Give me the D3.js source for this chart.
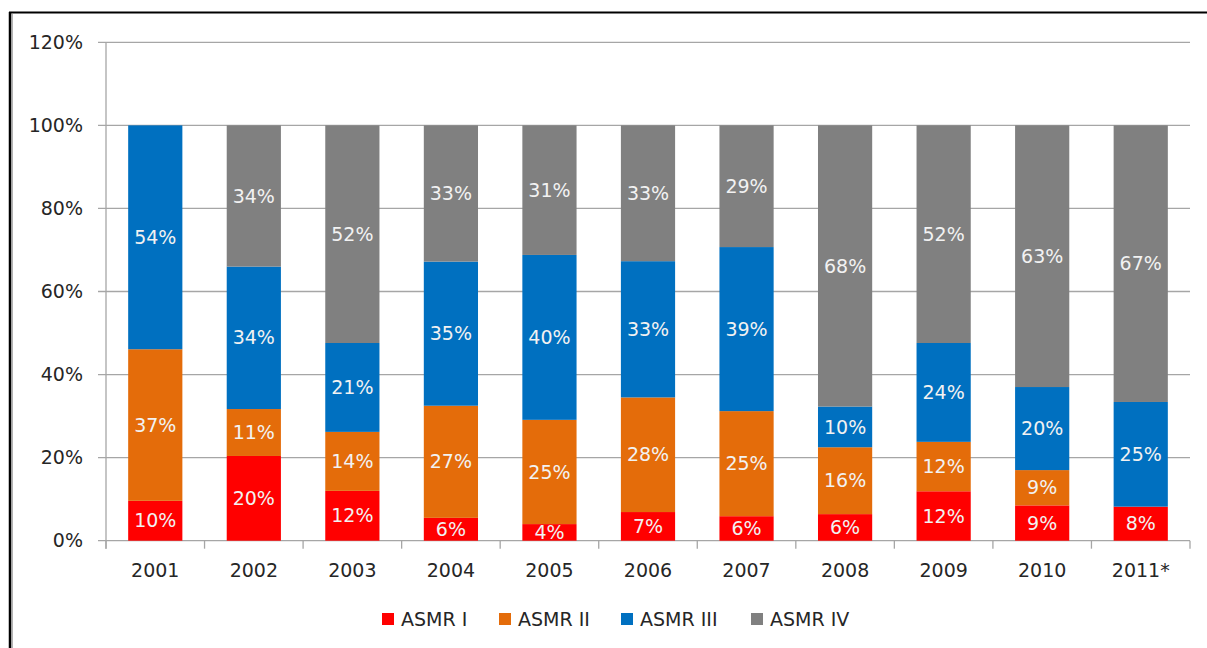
<!DOCTYPE html>
<html>
<head>
<meta charset="utf-8">
<script src="https://cdn.jsdelivr.net/npm/d3@7"></script>
<style>
  body { margin: 0; background: #fff; }
  svg text { font-family: "DejaVu Sans", sans-serif; }
</style>
</head>
<body>
<svg id="chart"></svg>
<script>
const width = 1207, height = 648;
const text_color = "#262626", grid_color = "#a6a6a6", label_color = "#f2f2f2";

// categories and series (share of each ASMR level, %)
const years = ["2001", "2002", "2003", "2004", "2005", "2006", "2007", "2008", "2009", "2010", "2011*"];
const series = ["ASMR I", "ASMR II", "ASMR III", "ASMR IV"];
const colors = ["#ff0000", "#e46c0a", "#0070c0", "#808080"];
const asmr1 = [9.6, 20.4, 12.0, 5.5, 4.0, 6.9, 5.9, 6.4, 11.9, 8.5, 8.2];
const asmr2 = [36.5, 11.3, 14.2, 27.0, 25.1, 27.6, 25.3, 16.1, 11.9, 8.5, 0];
const asmr3 = [53.9, 34.3, 21.4, 34.7, 39.7, 32.8, 39.5, 9.8, 23.8, 20.0, 25.2];
const asmr4 = [0, 34.0, 52.4, 32.8, 31.2, 32.7, 29.3, 67.7, 52.4, 63.0, 66.6];
const labels1 = ["10%", "20%", "12%", "6%", "4%", "7%", "6%", "6%", "12%", "9%", "8%"];
const labels2 = ["37%", "11%", "14%", "27%", "25%", "28%", "25%", "16%", "12%", "9%", ""];
const labels3 = ["54%", "34%", "21%", "35%", "40%", "33%", "39%", "10%", "24%", "20%", "25%"];
const labels4 = ["", "34%", "52%", "33%", "31%", "33%", "29%", "68%", "52%", "63%", "67%"];
const yTicks = [0, 20, 40, 60, 80, 100, 120];

const values = [asmr1, asmr2, asmr3, asmr4];
const labels = [labels1, labels2, labels3, labels4];

const svg = d3.select("#chart").attr("width", width).attr("height", height);

// frame
svg.append("line").attr("x1", 10).attr("x2", 10).attr("y1", 12).attr("y2", height)
  .attr("stroke", "#000").attr("stroke-width", 2.5);
svg.append("line").attr("x1", 12).attr("x2", 12).attr("y1", 14).attr("y2", height)
  .attr("stroke", "#9a9a9a").attr("stroke-width", 1.5);
svg.append("line").attr("x1", 9).attr("x2", width).attr("y1", 12.5).attr("y2", 12.5)
  .attr("stroke", "#000").attr("stroke-width", 2);

const plot = { left: 106, right: 1190, top: 42.3, bottom: 540.7 };

const x = d3.scaleBand().domain(years).range([plot.left, plot.right]).paddingInner(0.45).paddingOuter(0.225);
const xb = d3.scaleBand().domain(years).range([plot.left, plot.right]);
const y = d3.scaleLinear().domain([0, 120]).range([plot.bottom, plot.top]);

// gridlines
svg.append("g").selectAll("line").data(yTicks).enter().append("line")
  .attr("x1", plot.left - 8).attr("x2", plot.right)
  .attr("y1", d => y(d)).attr("y2", d => y(d))
  .attr("stroke", grid_color).attr("stroke-width", 1.3);

// y axis line
svg.append("line").attr("x1", plot.left).attr("x2", plot.left)
  .attr("y1", plot.top).attr("y2", plot.bottom + 8)
  .attr("stroke", grid_color).attr("stroke-width", 1.3);

// x tick marks at band boundaries
const boundaries = years.map(d => xb(d) + xb.bandwidth()).concat([plot.left]);
svg.append("g").selectAll("line").data(boundaries).enter().append("line")
  .attr("x1", d => d).attr("x2", d => d)
  .attr("y1", plot.bottom).attr("y2", plot.bottom + 8)
  .attr("stroke", grid_color).attr("stroke-width", 1.3);

// y labels
svg.append("g").selectAll("text").data(yTicks).enter().append("text")
  .attr("x", 83).attr("y", d => y(d)).attr("dy", "0.35em")
  .attr("text-anchor", "end").attr("font-size", 19).attr("fill", text_color)
  .text(d => d + "%");

// x labels
svg.append("g").selectAll("text").data(years).enter().append("text")
  .attr("x", d => x(d) + x.bandwidth() / 2).attr("y", 570).attr("dy", "0.35em")
  .attr("text-anchor", "middle").attr("font-size", 19).attr("fill", text_color)
  .text(d => d);

// stacked bars
const rows = years.map((yr, i) => {
  const r = { year: yr };
  series.forEach((s, k) => r[s] = values[k][i]);
  return r;
});
const stacked = d3.stack().keys(series)(rows);

stacked.forEach((layer, k) => {
  const g = svg.append("g");
  g.selectAll("rect").data(layer).enter().append("rect")
    .attr("x", d => x(d.data.year))
    .attr("width", x.bandwidth())
    .attr("y", d => y(d[1]))
    .attr("height", d => y(d[0]) - y(d[1]))
    .attr("fill", colors[k]);
  g.selectAll("text").data(layer).enter().append("text")
    .attr("x", d => x(d.data.year) + x.bandwidth() / 2)
    .attr("y", d => (y(d[0]) + y(d[1])) / 2)
    .attr("dy", "0.35em")
    .attr("text-anchor", "middle").attr("font-size", 19).attr("fill", label_color)
    .text((d, i) => labels[k][i]);
});

// legend
const legendX = [382, 499, 621, 751];
const legend = svg.append("g").selectAll("g").data(series).enter().append("g")
  .attr("transform", (d, i) => `translate(${legendX[i]},613)`);
legend.append("rect").attr("width", 12).attr("height", 12).attr("fill", (d, i) => colors[i]);
legend.append("text").attr("x", 19).attr("y", 6).attr("dy", "0.35em")
  .attr("font-size", 19).attr("fill", text_color).text(d => d);
</script>
</body>
</html>
